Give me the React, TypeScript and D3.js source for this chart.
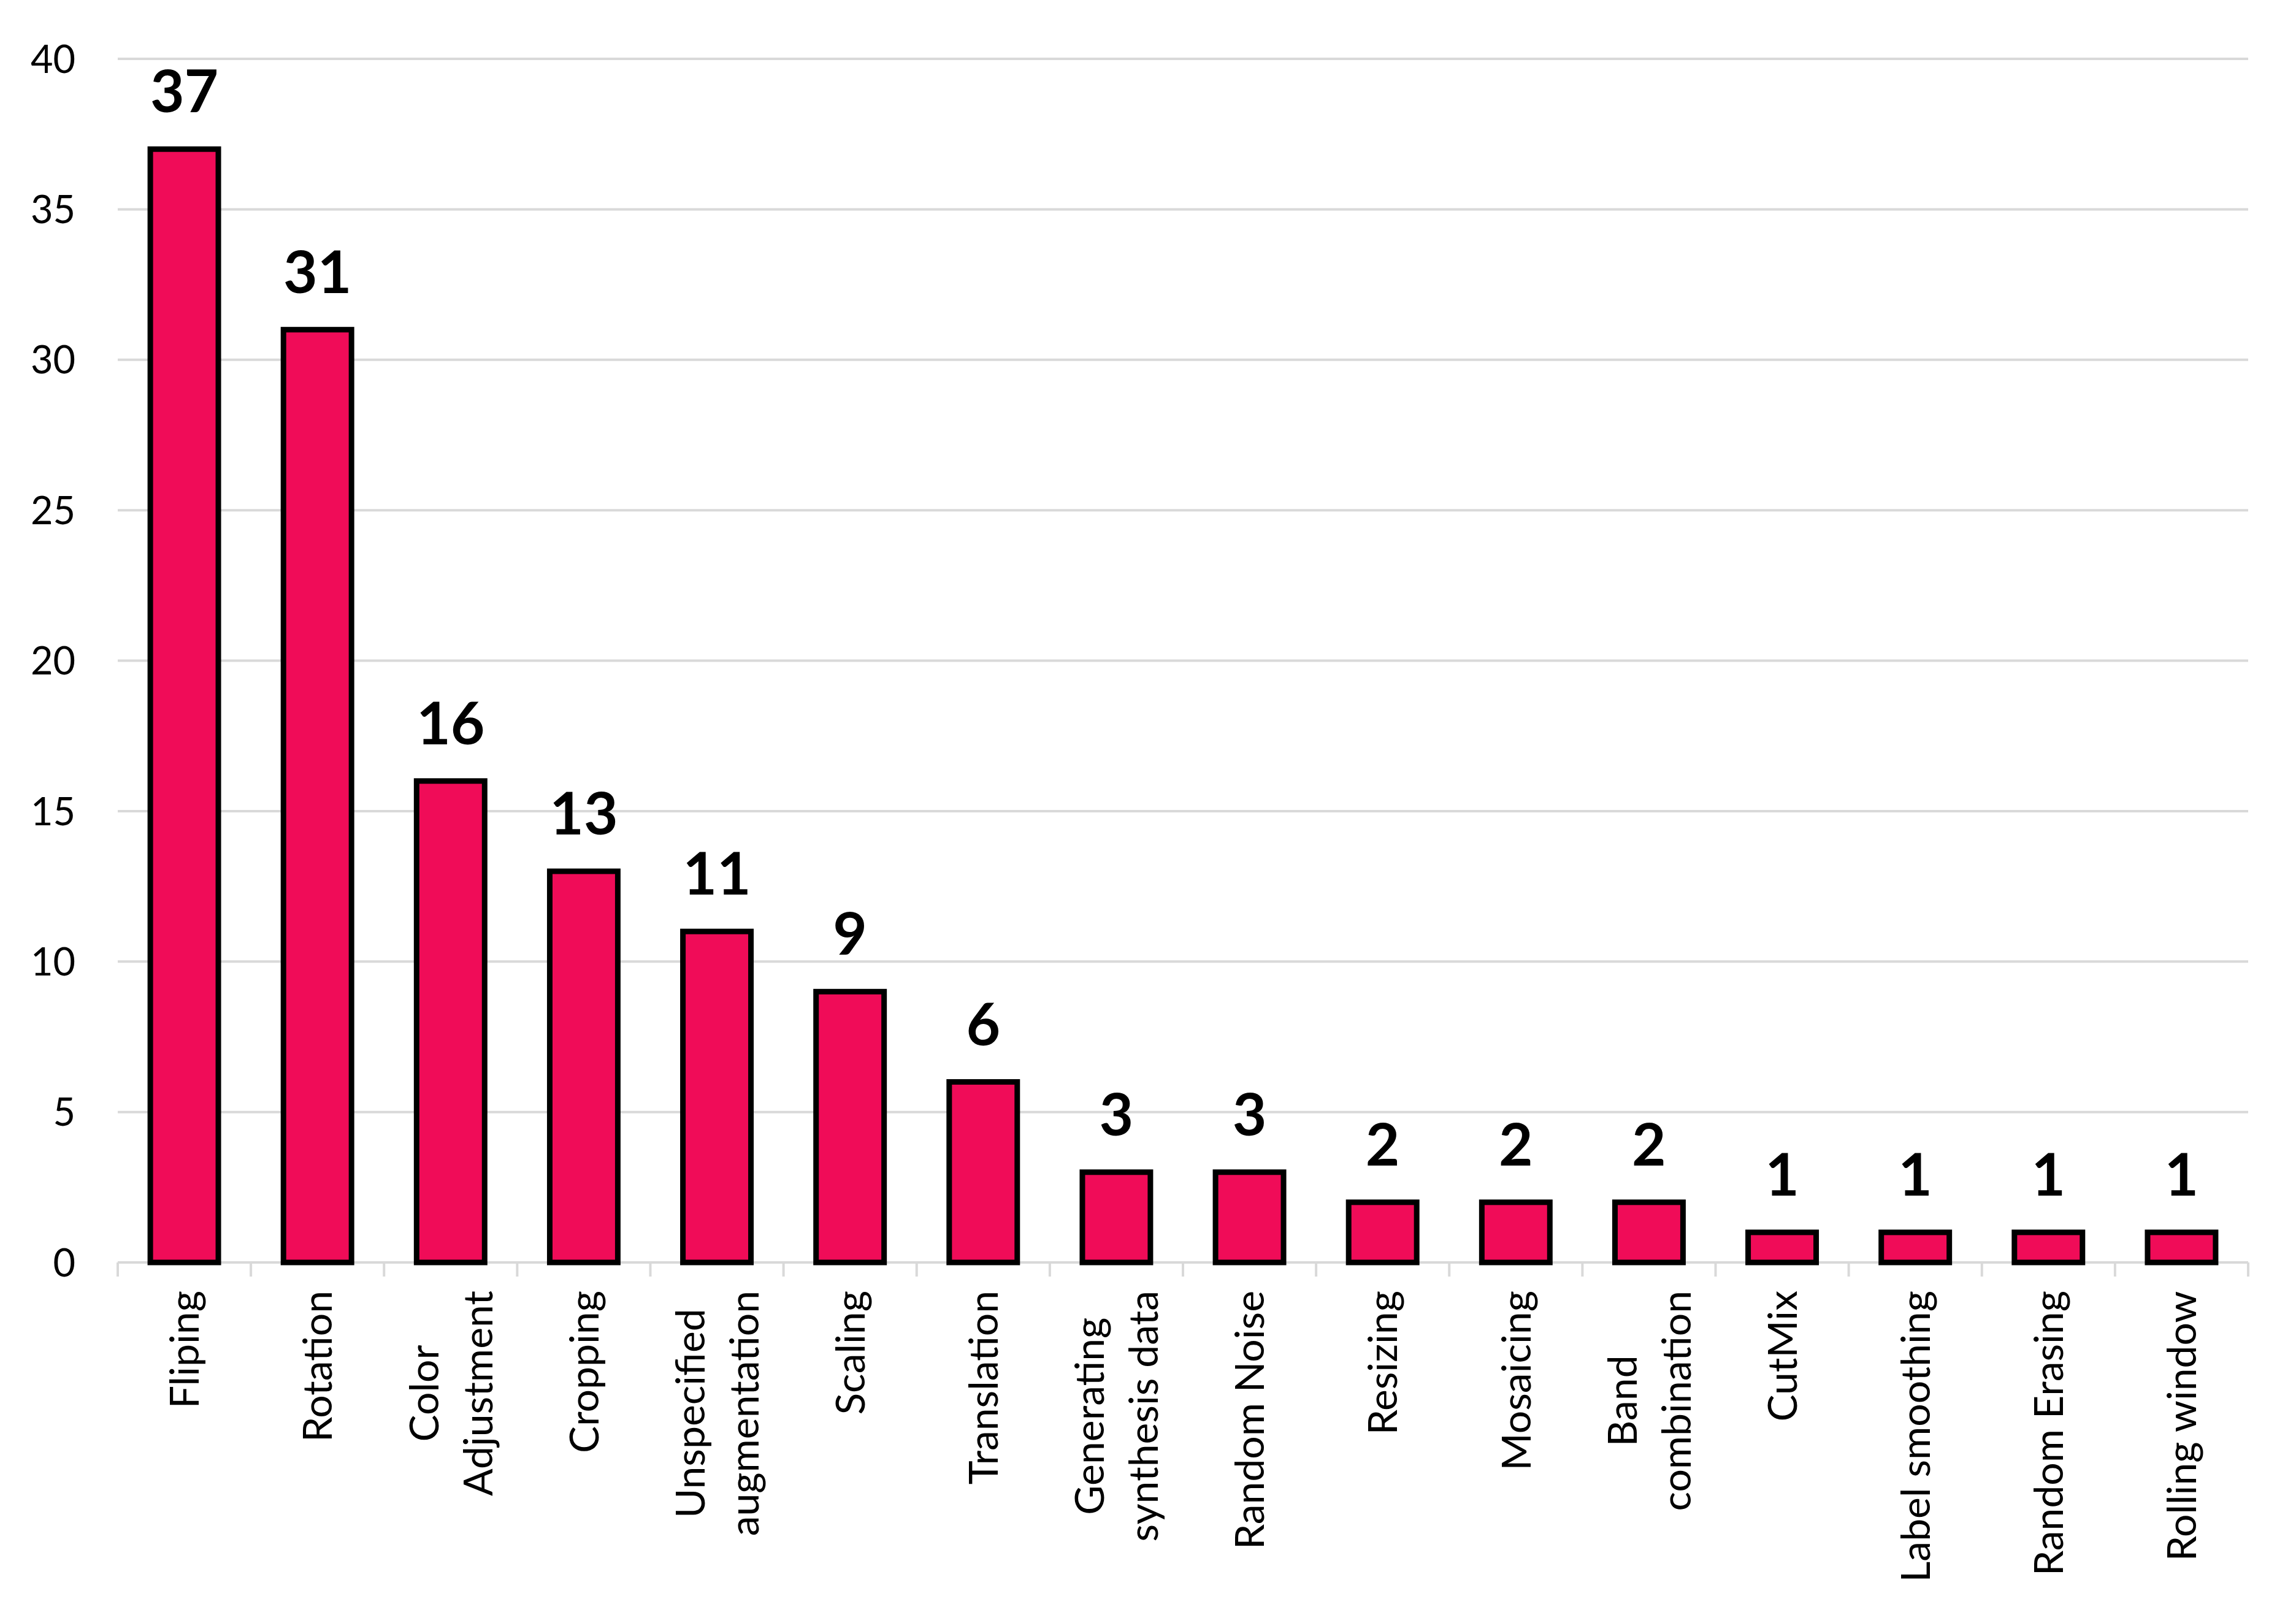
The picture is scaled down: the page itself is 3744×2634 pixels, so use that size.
import * as d3 from 'd3';

// Counts of papers per augmentation technique
const categories: string[] = [
  'Fliping',
  'Rotation',
  'Color\nAdjustment',
  'Cropping',
  'Unspecified\naugmentation',
  'Scaling',
  'Translation',
  'Generating\nsynthesis data',
  'Random Noise',
  'Resizing',
  'Mosaicing',
  'Band\ncombination',
  'CutMix',
  'Label smoothing',
  'Random Erasing',
  'Rolling window',
];
const counts: number[] = [37, 31, 16, 13, 11, 9, 6, 3, 3, 2, 2, 2, 1, 1, 1, 1];
const yTicks: number[] = [0, 5, 10, 15, 20, 25, 30, 35, 40];

const W = 3744;
const H = 2634;
const left = 192;
const right = 3666;
const top = 96;
const bottom = 2059;

const FONT = 'Lato, "Open Sans", sans-serif';
const BAR_FILL = '#F00C58';
const GRID = '#D9D9D9';
const LABEL_SIZE = 66;
const LINE_GAP = 88;

let ctx: CanvasRenderingContext2D | null = null;
function textWidth(s: string, size: number): number {
  if (!ctx) ctx = document.createElement('canvas').getContext('2d');
  if (!ctx) return s.length * size * 0.5;
  ctx.font = `${size}px Lato`;
  return ctx.measureText(s).width;
}

export default function App() {
  const x = d3.scaleBand<string>()
    .domain(categories)
    .range([left, right])
    .paddingInner(0.489)
    .paddingOuter(0.2445);

  const slot = d3.scaleBand<string>().domain(categories).range([left, right]);

  const y = d3.scaleLinear().domain([0, 40]).range([bottom, top]);

  const tickXs = [...categories.map(c => slot(c) as number), right];

  return (
    <svg
      width={W}
      height={H}
      viewBox={`0 0 ${W} ${H}`}
      style={{ position: 'absolute', left: 0, top: 0, display: 'block', background: '#fff' }}
    >
      {/* gridlines */}
      {yTicks.filter(t => t > 0).map(t => (
        <line key={t} x1={left} x2={right} y1={y(t)} y2={y(t)} stroke={GRID} strokeWidth={4} />
      ))}

      {/* y tick labels */}
      {yTicks.map(t => (
        <text
          key={t}
          x={123}
          y={y(t)}
          dy="0.36em"
          textAnchor="end"
          fontFamily={FONT}
          fontSize={63}
          fill="#000"
        >
          {t}
        </text>
      ))}

      {/* x axis line and category ticks */}
      <line x1={left} x2={right} y1={bottom} y2={bottom} stroke={GRID} strokeWidth={4} />
      {tickXs.map((tx, i) => (
        <line key={i} x1={tx} x2={tx} y1={bottom} y2={bottom + 23} stroke={GRID} strokeWidth={4} />
      ))}

      {/* bars */}
      {categories.map((c, i) => (
        <rect
          key={c}
          x={x(c)}
          y={y(counts[i])}
          width={x.bandwidth()}
          height={y(0) - y(counts[i])}
          fill={BAR_FILL}
          stroke="#000"
          strokeWidth={9}
        />
      ))}

      {/* value labels */}
      {categories.map((c, i) => (
        <text
          key={c}
          x={(x(c) as number) + x.bandwidth() / 2}
          y={y(counts[i]) - 60}
          textAnchor="middle"
          fontFamily={FONT}
          fontWeight={700}
          fontSize={96}
          fill="#000"
        >
          {counts[i]}
        </text>
      ))}

      {/* rotated category labels */}
      {categories.map(c => {
        const lines = c.split('\n');
        const maxW = Math.max(...lines.map(l => textWidth(l, LABEL_SIZE)));
        const cx = (slot(c) as number) + slot.bandwidth() / 2;
        const cy = 2105 + maxW / 2;
        const n = lines.length;
        return (
          <g key={c} transform={`translate(${cx},${cy}) rotate(-90)`}>
            {lines.map((l, j) => (
              <text
                key={j}
                x={0}
                y={(j - (n - 1) / 2) * LINE_GAP}
                dy="0.36em"
                textAnchor="middle"
                fontFamily={FONT}
                fontSize={LABEL_SIZE}
                fill="#000"
              >
                {l}
              </text>
            ))}
          </g>
        );
      })}
    </svg>
  );
}
